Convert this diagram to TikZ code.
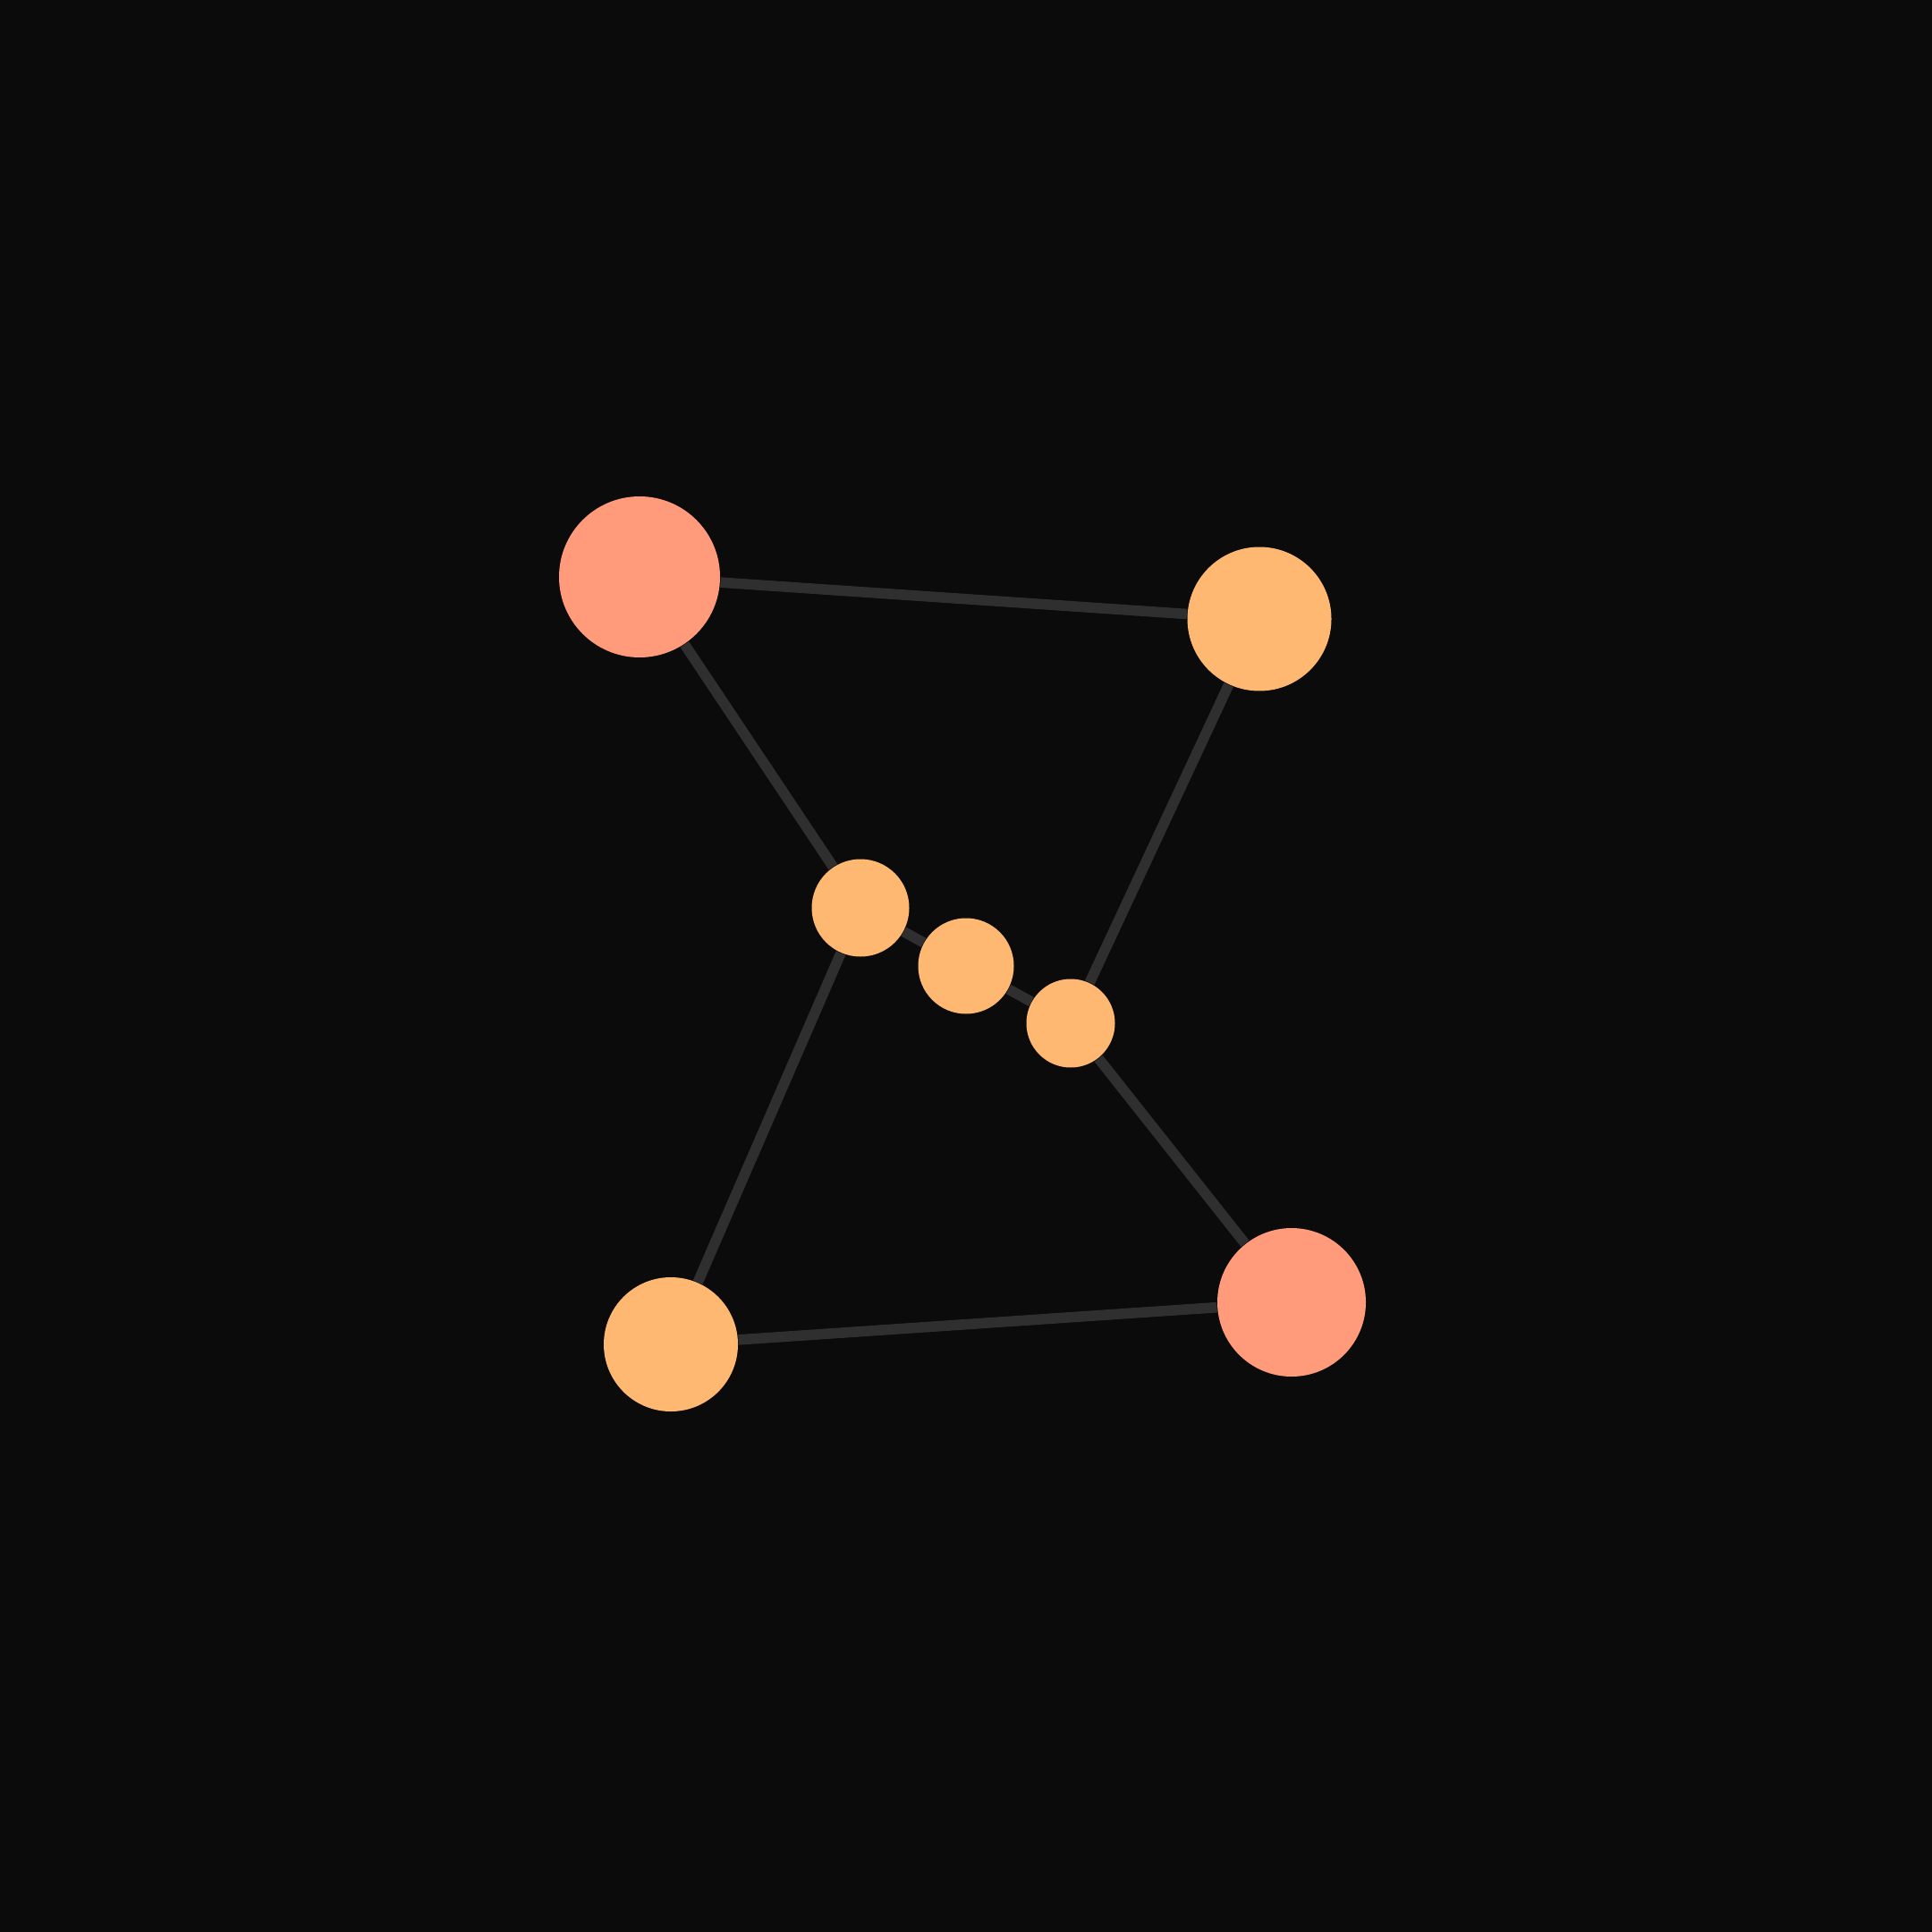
\documentclass[tikz,border=0pt]{standalone}
\usetikzlibrary{backgrounds}
\definecolor{bgcol}{HTML}{0B0B0B}
\definecolor{linkcol}{HTML}{2F2F2F}
\definecolor{salmon}{HTML}{FF9A7A}
\definecolor{apricot}{HTML}{FFB871}
\tikzset{
  hub/.style={circle, fill=salmon, inner sep=0pt},
  dot/.style={circle, fill=apricot, inner sep=0pt},
  link/.style={draw=linkcol, line width=3.3pt}
}
\begin{document}
\begin{tikzpicture}
    % First the corner nodes
    \node[hub, minimum size=1.80cm] (tl) at (7.15,-6.45) {};
    \node[dot, minimum size=1.61cm] (tr) at (14.08,-6.92) {};
    \node[dot, minimum size=1.50cm] (bl) at (7.50,-15.03) {};
    \node[hub, minimum size=1.66cm] (br) at (14.44,-14.56) {};

    % Now the three small ones in the middle
    \node[dot, minimum size=1.09cm] (m1) at (9.62,-10.15) {};
    \node[dot, minimum size=1.07cm] (m2) at (10.80,-10.80) {};
    \node[dot, minimum size=0.99cm] (m3) at (11.97,-11.44) {};

    % Now the links, behind the nodes
    \begin{scope}[on background layer]
    \fill[bgcol] (0,0) rectangle (21.6,-21.6);
    \draw[link] (tl) -- (tr);
    \draw[link] (tl) -- (m1);
    \draw[link] (m1) -- (m2);
    \draw[link] (m2) -- (m3);
    \draw[link] (m3) -- (tr);
    \draw[link] (m1) -- (bl);
    \draw[link] (m3) -- (br);
    \draw[link] (bl) -- (br);
    \end{scope}
\end{tikzpicture}
\end{document}
